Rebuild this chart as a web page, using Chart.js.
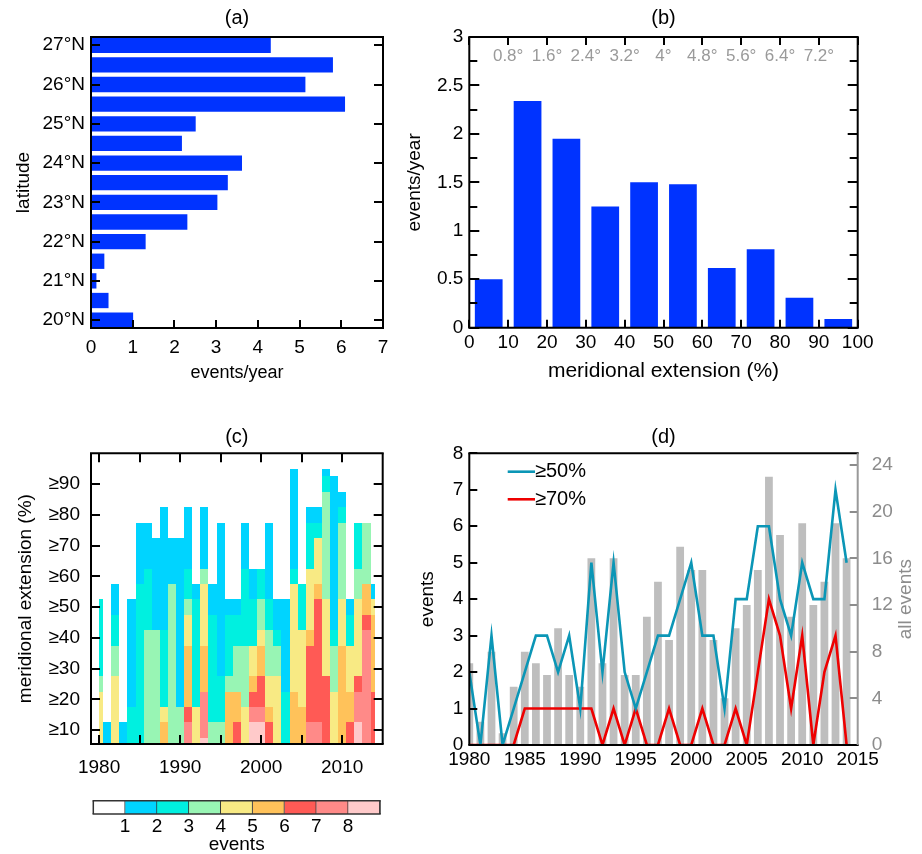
<!DOCTYPE html>
<html>
<head>
<meta charset="utf-8">
<script src="https://cdn.jsdelivr.net/npm/chart.js@4.4.1/dist/chart.umd.min.js"></script>
<style>
  html, body { margin: 0; padding: 0; background: #fff; }
  body { width: 922px; height: 854px; position: relative; overflow: hidden; }
  canvas { position: absolute; }
</style>
</head>
<body>
<canvas id="chartLat" width="461" height="400" style="left:0;top:0"></canvas>
<canvas id="chartExt" width="527" height="400" style="left:395px;top:0"></canvas>
<canvas id="chartHeat" width="461" height="390" style="left:0;top:400px"></canvas>
<canvas id="chartKey" width="461" height="64" style="left:0;top:790px"></canvas>
<canvas id="chartYears" width="527" height="390" style="left:395px;top:400px"></canvas>
<script>
// (a) events/year by latitude
const latitudes = [20, 20.5, 21, 21.5, 22, 22.5, 23, 23.5, 24, 24.5, 25, 25.5, 26, 26.5, 27];
const latRate = [1.01, 0.42, 0.13, 0.32, 1.31, 2.31, 3.03, 3.28, 3.62, 2.18, 2.51, 6.09, 5.14, 5.8, 4.31];
const latTicks = [20, 21, 22, 23, 24, 25, 26, 27];
const latRateTicks = [0, 1, 2, 3, 4, 5, 6, 7];

// (b) events/year by meridional extension
const extBins = [5, 15, 25, 35, 45, 55, 65, 75, 85, 95];
const extRate = [0.50, 2.34, 1.95, 1.25, 1.50, 1.48, 0.615, 0.81, 0.31, 0.09];
const extTicks = [0, 10, 20, 30, 40, 50, 60, 70, 80, 90, 100];
const extRateTicks = [0, 0.5, 1, 1.5, 2, 2.5, 3];
const extRateMinor = [0.25, 0.75, 1.25, 1.75, 2.25, 2.75];
const degPos = [10, 20, 30, 40, 50, 60, 70, 80, 90];
const degLabels = ['0.8°', '1.6°', '2.4°', '3.2°', '4°', '4.8°', '5.6°', '6.4°', '7.2°'];

// (c) events per year with extension >= threshold (bottom row first)
const years = [1980, 1981, 1982, 1983, 1984, 1985, 1986, 1987, 1988, 1989, 1990, 1991,
  1992, 1993, 1994, 1995, 1996, 1997, 1998, 1999, 2000, 2001, 2002, 2003, 2004, 2005,
  2006, 2007, 2008, 2009, 2010, 2011, 2012, 2013, 2014];
const thresholds = [5, 10, 15, 20, 25, 30, 35, 40, 45, 50, 55, 60, 65, 70, 75, 80, 85, 90, 95];
const extCounts = [
  [4,4,4,4,3,2,2,2,2,2],
  [1,1],
  [4,4,4,4,4,3,3,2,2,1,1],
  [1,1],
  [2,2,2,1,1,1,1,1,1,1],
  [2,2,2,2,2,2,2,2,2,2,2,1,1,1,1],
  [3,3,3,3,3,3,3,3,2,2,2,2,1,1,1],
  [3,3,3,3,3,3,3,3,1,1,1,1,1,1],
  [5,5,4,2,2,2,2,2,1,1,1,1,1,1,1,1],
  [3,3,3,3,3,3,3,3,3,3,3,1,1,1],
  [3,3,3,1,1,1,1,1,1,1,1,1,1,1],
  [7,7,6,5,5,5,5,4,4,3,2,2,1,1,1,1],
  [4,4,4,2,2,2,2,2,2,2,1],
  [8,7,7,7,5,5,5,4,4,4,4,3,1,1,1,1],
  [3,3,2,2,2,2,2,2,2,1,1],
  [3,3,2,2,2,1,1,1,1,1,1,1,1,1,1],
  [5,5,5,5,3,2,2,2,2,1],
  [6,6,5,5,3,3,3,2,2,1],
  [4,4,4,3,3,3,3,2,2,2,2,2,1,1,1],
  [8,8,7,6,5,4,4,2,2,2,1,1],
  [8,8,7,6,6,5,5,4,3,3,2,2],
  [6,6,5,4,4,3,3,3,2,2,1,1,1,1,1],
  [4,4,4,4,4,3,3,2,1,1],
  [2,2,2,2,1,1,1,1,1,1],
  [5,5,5,5,4,4,4,4,4,4,4,2,1,1,1,1,1,1,1],
  [5,5,5,4,4,4,4,4,2,2,2],
  [7,7,6,6,6,6,6,5,4,4,4,4,2,2,2,1],
  [7,7,6,6,6,6,6,6,6,6,5,4,4,4,2,1],
  [6,6,6,6,6,4,4,4,4,4,3,3,3,3,3,3,3,2,1],
  [4,4,4,4,3,3,3,2,1,1,1,1,1,1,1,1,1,1],
  [5,5,5,5,5,5,5,4,4,4,3,3,3,3,3,2,1],
  [6,6,5,5,4,4,4,2,2,1],
  [8,8,7,7,6,4,4,4,4,4,3,3,2,2,2],
  [7,7,7,7,7,7,7,7,6,5,5,3,3,3,3],
  [6,6,6,6,5,5,5,5,5,4,1]
];
const heatYearTicks = [1980, 1985, 1990, 1995, 2000, 2005, 2010];
const heatYearLabels = [1980, 1990, 2000, 2010];
const heatExtTicks = [10, 20, 30, 40, 50, 60, 70, 80, 90];
const levelColors = ['#ffffff', '#00d4ff', '#00f0e0', '#98f5b4', '#f8ea84', '#ffc25a', '#ff5a55', '#ff8a88', '#ffcaca'];
const levelTicks = [1, 2, 3, 4, 5, 6, 7, 8];

// (d) yearly counts
const allEvents = [7, 2, 8, 1, 5, 8, 7, 6, 10, 6, 5, 16, 7, 16, 6, 6, 11, 14, 9, 17,
  15, 15, 9, 4, 10, 12, 15, 23, 18, 11, 19, 12, 14, 19, 16];
const ext50 = [2, 0, 3, 0, 1, 2, 3, 3, 2, 3, 1, 5, 2, 5, 2, 1, 2, 3, 3, 4,
  5, 3, 3, 1, 4, 4, 6, 6, 4, 3, 5, 4, 4, 7, 5];
const ext70 = [0, 0, 0, 0, 0, 1, 1, 1, 1, 1, 1, 1, 0, 1, 0, 1, 0, 0, 1, 0,
  0, 1, 0, 0, 1, 0, 2, 4, 3, 1, 3, 0, 2, 3, 0];
const yearTicks = [1980, 1985, 1990, 1995, 2000, 2005, 2010, 2015];
const eventTicks = [0, 1, 2, 3, 4, 5, 6, 7, 8];
const allTicks = [0, 4, 8, 12, 16, 20, 24];

const FONT = "'Liberation Sans', Arial, Helvetica, sans-serif";
Chart.defaults.font.family = FONT;
Chart.defaults.font.size = 19;
Chart.defaults.color = '#000';
Chart.defaults.animation = false;
Chart.defaults.responsive = false;
Chart.defaults.devicePixelRatio = 1;
Chart.defaults.plugins.legend.display = false;
Chart.defaults.plugins.tooltip.enabled = false;

const fixTicks = vals => s => { s.ticks = vals.map(v => ({ value: v })); };
const boxW = w => s => { s.width = w; };
const boxH = h => s => { s.height = h; };
const noGrid = { display: false, drawTicks: false };
const panelTitle = (text, top, bottom) => ({
  display: true, text, fullSize: false, color: '#000',
  font: { size: 20, weight: 'normal' }, padding: { top, bottom }
});

// box round the plot and inward tick marks
function framePlugin(conf) {
  return {
    id: 'frame',
    afterDatasetsDraw(chart) {
      const { ctx, chartArea: a, scales } = chart;
      ctx.save();
      ctx.lineCap = 'butt';
      (conf.marks || []).forEach(m => {
        const s = scales[m.scale];
        ctx.strokeStyle = m.color || '#000';
        ctx.lineWidth = 2;
        ctx.beginPath();
        m.values.forEach(v => {
          const p = Math.round(s.getPixelForValue(v));
          m.sides.forEach(side => {
            if (side === 'bottom') { ctx.moveTo(p, a.bottom); ctx.lineTo(p, a.bottom - m.len); }
            else if (side === 'top') { ctx.moveTo(p, a.top); ctx.lineTo(p, a.top + m.len); }
            else if (side === 'left') { ctx.moveTo(a.left, p); ctx.lineTo(a.left + m.len, p); }
            else { ctx.moveTo(a.right, p); ctx.lineTo(a.right - m.len, p); }
          });
        });
        ctx.stroke();
      });
      const w = conf.width || 2;
      ctx.lineWidth = w;
      [['top', a.left - w / 2, a.top, a.right + w / 2, a.top],
       ['bottom', a.left - w / 2, a.bottom, a.right + w / 2, a.bottom],
       ['left', a.left, a.top, a.left, a.bottom],
       ['right', a.right, a.top, a.right, a.bottom]].forEach(([side, x0, y0, x1, y1]) => {
        ctx.strokeStyle = (conf.colors && conf.colors[side]) || conf.color || '#000';
        ctx.beginPath(); ctx.moveTo(x0, y0); ctx.lineTo(x1, y1); ctx.stroke();
      });
      ctx.restore();
    }
  };
}

// (a)
new Chart(document.getElementById('chartLat'), {
  type: 'bar',
  data: {
    datasets: [{
      data: latitudes.map((lat, i) => ({ x: latRate[i], y: lat })),
      backgroundColor: '#0033ff',
      borderWidth: 0,
      barPercentage: 0.78,
      categoryPercentage: 1,
    }]
  },
  options: {
    indexAxis: 'y',
    layout: { padding: { left: 0, right: 78, top: 0, bottom: 0 } },
    plugins: { title: panelTitle('(a)', 6, 7) },
    scales: {
      x: {
        type: 'linear', min: 0, max: 7, offset: false,
        grid: noGrid, border: { display: false },
        afterBuildTicks: fixTicks(latRateTicks), afterFit: boxH(72),
        ticks: { padding: 8, autoSkip: false, maxRotation: 0, minRotation: 0, callback: v => String(v) },
        title: { display: true, text: 'events/year', font: { size: 18 }, padding: { top: 0, bottom: 16 } }
      },
      y: {
        type: 'linear', min: 19.8, max: 27.21, offset: false,
        grid: noGrid, border: { display: false },
        afterBuildTicks: fixTicks(latTicks), afterFit: boxW(91),
        ticks: { padding: 6, autoSkip: false, callback: v => v + '°N' },
        title: { display: true, text: 'latitude', padding: { top: 12, bottom: 0 } }
      }
    }
  },
  plugins: [framePlugin({ marks: [
    { scale: 'x', values: latRateTicks, sides: ['bottom'], len: 8 },
    { scale: 'y', values: latTicks, sides: ['left', 'right'], len: 9 }
  ] })]
});

// (b)
new Chart(document.getElementById('chartExt'), {
  type: 'bar',
  data: {
    datasets: [{
      data: extBins.map((b, i) => ({ x: b, y: extRate[i] })),
      backgroundColor: '#0033ff',
      borderWidth: 0,
      barPercentage: 0.714,
      categoryPercentage: 1,
    }]
  },
  options: {
    layout: { padding: { left: 0, right: 64.3, top: 0, bottom: 0 } },
    plugins: { title: panelTitle('(b)', 6, 7) },
    scales: {
      x: {
        type: 'linear', min: 0, max: 100, offset: false,
        grid: noGrid, border: { display: false },
        afterBuildTicks: fixTicks(extTicks), afterFit: boxH(72.3),
        ticks: { padding: 4, autoSkip: false, maxRotation: 0, minRotation: 0, callback: v => String(v) },
        title: { display: true, text: 'meridional extension (%)', font: { size: 21 }, padding: { top: 0, bottom: 16 } }
      },
      y: {
        type: 'linear', min: 0, max: 3,
        grid: noGrid, border: { display: false },
        afterBuildTicks: fixTicks(extRateTicks), afterFit: boxW(74.3),
        ticks: { padding: 6, autoSkip: false, callback: v => String(v) },
        title: { display: true, text: 'events/year', padding: { top: 8, bottom: 0 } }
      }
    }
  },
  plugins: [
    framePlugin({ marks: [
      { scale: 'x', values: extTicks, sides: ['bottom', 'top'], len: 8 },
      { scale: 'y', values: extRateTicks, sides: ['left', 'right'], len: 10 },
      { scale: 'y', values: extRateMinor, sides: ['left', 'right'], len: 8 }
    ] }),
    {
      id: 'degLabels',
      afterDatasetsDraw(chart) {
        const { ctx, chartArea: a, scales } = chart;
        ctx.save();
        ctx.font = '17px ' + FONT;
        ctx.fillStyle = '#9a9a9a';
        ctx.textAlign = 'center';
        ctx.textBaseline = 'middle';
        degPos.forEach((p, i) => ctx.fillText(degLabels[i], scales.x.getPixelForValue(p), a.top + 19.5));
        ctx.restore();
      }
    }
  ]
});

// (c) heat map of cumulative counts
const heatPlugin = {
  id: 'heat',
  beforeDatasetsDraw(chart) {
    const { ctx, chartArea: a, scales } = chart;
    const edge = (arr, i, side) => {
      if (side < 0) return i === 0 ? arr[0] : (arr[i - 1] + arr[i]) / 2;
      return i === arr.length - 1 ? arr[i] : (arr[i] + arr[i + 1]) / 2;
    };
    ctx.save();
    ctx.beginPath();
    ctx.rect(a.left, a.top, a.width, a.height);
    ctx.clip();
    extCounts.forEach((col, i) => {
      const x0 = Math.round(scales.x.getPixelForValue(edge(years, i, -1)));
      const x1 = Math.round(scales.x.getPixelForValue(edge(years, i, 1)));
      col.forEach((n, j) => {
        if (!n) return;
        const y0 = Math.round(scales.y.getPixelForValue(edge(thresholds, j, -1)));
        const y1 = Math.round(scales.y.getPixelForValue(edge(thresholds, j, 1)));
        ctx.fillStyle = levelColors[Math.min(n, levelColors.length - 1)];
        ctx.fillRect(x0, y1, x1 - x0, y0 - y1);
      });
    });
    ctx.restore();
  }
};

new Chart(document.getElementById('chartHeat'), {
  type: 'scatter',
  data: { datasets: [{ data: [] }] },
  options: {
    layout: { padding: { left: 0, right: 78.3, top: 0, bottom: 0 } },
    plugins: { title: panelTitle('(c)', 25, 4.3) },
    scales: {
      x: {
        type: 'linear', min: 1979, max: 2015,
        grid: noGrid, border: { display: false },
        afterBuildTicks: fixTicks(heatYearLabels), afterFit: boxH(46),
        ticks: { padding: 12.6, autoSkip: false, maxRotation: 0, minRotation: 0, callback: v => String(v) }
      },
      y: {
        type: 'linear', min: 5.5, max: 100,
        grid: noGrid, border: { display: false },
        afterBuildTicks: fixTicks(heatExtTicks), afterFit: boxW(91),
        ticks: { padding: 11, autoSkip: false, callback: v => '≥' + v },
        title: { display: true, text: 'meridional extension (%)', padding: { top: 14.6, bottom: 0 } }
      }
    }
  },
  plugins: [heatPlugin, framePlugin({ marks: [
    { scale: 'x', values: heatYearTicks, sides: ['bottom', 'top'], len: 9 },
    { scale: 'y', values: heatExtTicks, sides: ['left', 'right'], len: 9 }
  ] })]
});

// colour key for (c)
new Chart(document.getElementById('chartKey'), {
  type: 'bar',
  data: {
    labels: ['events'],
    datasets: levelColors.map(c => ({
      data: [1],
      backgroundColor: c,
      borderColor: '#333',
      borderWidth: { top: 0, bottom: 0, left: 0, right: 1 },
      borderSkipped: false,
      barPercentage: 1,
      categoryPercentage: 1,
    }))
  },
  options: {
    indexAxis: 'y',
    layout: { padding: { left: 93.3, right: 81, top: 10.7, bottom: 0 } },
    scales: {
      x: {
        type: 'linear', stacked: true, min: 0, max: 9,
        grid: noGrid, border: { display: false },
        afterBuildTicks: fixTicks(levelTicks), afterFit: boxH(40),
        ticks: { padding: 1.3, autoSkip: false, maxRotation: 0, minRotation: 0, callback: v => String(v) },
        title: { display: true, text: 'events', font: { size: 19, lineHeight: 1 }, padding: { top: 0, bottom: 0 } }
      },
      y: { stacked: true, display: false }
    }
  },
  plugins: [framePlugin({ marks: [], width: 1.5, color: '#333' })]
});

// (d)
new Chart(document.getElementById('chartYears'), {
  type: 'bar',
  data: {
    datasets: [
      {
        type: 'line', label: '≥50%',
        data: years.map((y, i) => ({ x: y, y: ext50[i] })),
        borderColor: '#0b96b6', borderWidth: 2.6, pointRadius: 0, tension: 0,
        yAxisID: 'y', order: 1
      },
      {
        type: 'line', label: '≥70%',
        data: years.map((y, i) => ({ x: y, y: ext70[i] })),
        borderColor: '#ee0000', borderWidth: 2.6, pointRadius: 0, tension: 0,
        yAxisID: 'y', order: 2
      },
      {
        type: 'bar', label: 'all events',
        data: years.map((y, i) => ({ x: y, y: allEvents[i] })),
        backgroundColor: '#bebebe', borderWidth: 0,
        barPercentage: 0.7, categoryPercentage: 1,
        yAxisID: 'y2', order: 3
      }
    ]
  },
  options: {
    layout: { padding: { left: 0, right: 0, top: 0, bottom: 0 } },
    plugins: { title: panelTitle('(d)', 25, 4.3) },
    scales: {
      x: {
        type: 'linear', min: 1980, max: 2015, offset: false,
        grid: noGrid, border: { display: false },
        afterBuildTicks: fixTicks(yearTicks), afterFit: boxH(45),
        ticks: { padding: 3.6, autoSkip: false, maxRotation: 0, minRotation: 0, callback: v => String(v) }
      },
      y: {
        type: 'linear', position: 'left', min: 0, max: 8,
        grid: noGrid, border: { display: false },
        afterBuildTicks: fixTicks(eventTicks), afterFit: boxW(74.3),
        ticks: { padding: 6, autoSkip: false, callback: v => String(v) },
        title: { display: true, text: 'events', padding: { top: 21.6, bottom: 0 } }
      },
      y2: {
        type: 'linear', position: 'right', min: 0, max: 25,
        grid: noGrid, border: { display: false },
        afterBuildTicks: fixTicks(allTicks), afterFit: boxW(64.3),
        ticks: { padding: 14, autoSkip: false, color: '#8c8c8c', callback: v => String(v) }
      }
    }
  },
  plugins: [
    framePlugin({
      marks: [
        { scale: 'y', values: eventTicks, sides: ['left'], len: 8 },
        { scale: 'y2', values: allTicks, sides: ['right'], len: 8, color: '#8c8c8c' }
      ],
      colors: { right: '#999999' }
    }),
    {
      id: 'keyAndSideTitle',
      afterDatasetsDraw(chart) {
        const { ctx, chartArea: a } = chart;
        ctx.save();
        chart.data.datasets.filter(d => d.type === 'line').forEach((d, i) => {
          const y = a.top + 18.4 + i * 27.6;
          ctx.strokeStyle = d.borderColor;
          ctx.lineWidth = d.borderWidth;
          ctx.beginPath();
          ctx.moveTo(a.left + 38.4, y);
          ctx.lineTo(a.left + 65.7, y);
          ctx.stroke();
          ctx.fillStyle = '#000';
          ctx.font = '20px ' + FONT;
          ctx.textAlign = 'left';
          ctx.textBaseline = 'middle';
          ctx.fillText(d.label, a.left + 65.7, y);
        });
        ctx.translate(a.right + 48.3, (a.top + a.bottom) / 2);
        ctx.rotate(-Math.PI / 2);
        ctx.fillStyle = '#8c8c8c';
        ctx.font = '19px ' + FONT;
        ctx.textAlign = 'center';
        ctx.textBaseline = 'middle';
        ctx.fillText('all events', 0, 0);
        ctx.restore();
      }
    }
  ]
});
</script>
</body>
</html>
